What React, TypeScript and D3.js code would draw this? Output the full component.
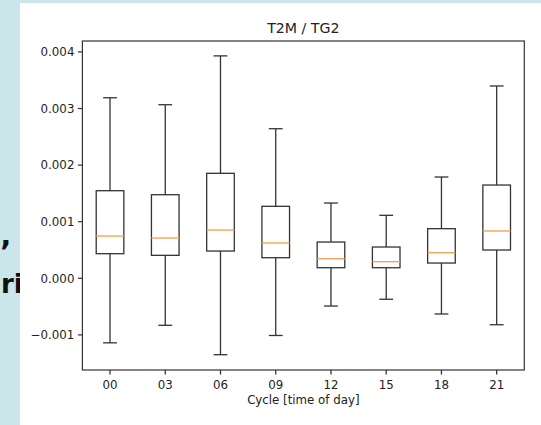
import React from "react";
import * as d3 from "d3";

const categories = ["00", "03", "06", "09", "12", "15", "18", "21"];
const whiskerLow = [-1.14e-3, -0.83e-3, -1.35e-3, -1.01e-3, -0.49e-3, -0.37e-3, -0.63e-3, -0.82e-3];
const q1 = [0.435e-3, 0.406e-3, 0.482e-3, 0.364e-3, 0.187e-3, 0.187e-3, 0.27e-3, 0.5e-3];
const median = [0.747e-3, 0.712e-3, 0.853e-3, 0.624e-3, 0.346e-3, 0.294e-3, 0.453e-3, 0.836e-3];
const q3 = [1.548e-3, 1.477e-3, 1.855e-3, 1.272e-3, 0.641e-3, 0.553e-3, 0.877e-3, 1.648e-3];
const whiskerHigh = [3.19e-3, 3.067e-3, 3.93e-3, 2.643e-3, 1.33e-3, 1.113e-3, 1.79e-3, 3.398e-3];
const yTicks = [-0.001, 0, 0.001, 0.002, 0.003, 0.004];
const title = "T2M / TG2";
const xLabel = "Cycle [time of day]";

const W = 541;
const H = 425;
const left = 82.4;
const right = 524.3;
const top = 41;
const bottom = 370;

export default function App() {
  const x = d3.scaleLinear().domain([0.5, categories.length + 0.5]).range([left, right]);
  const y = d3.scaleLinear().domain([-0.00162, 0.004193]).range([bottom, top]);
  const step = x(2) - x(1);
  const boxW = step * 0.5;
  const capW = boxW * 0.5;
  const fmt = (v: number) => {
    const s = d3.format(".3f")(Math.abs(v));
    return v < 0 ? "\u2212" + s : s;
  };
  const font = "DejaVu Sans, sans-serif";
  const ink = "#333";
  return (
    <div style={{ position: "fixed", left: 0, top: 0 }}>
      <svg width={W} height={H} style={{ display: "block" }}>
        <rect x={0} y={0} width={W} height={H} fill="#cbe6ea" />
        <text x={0} y={262} fontFamily={font} fontWeight="bold" fontSize={30} fill="#111">{"\u2019"}</text>
        <text x={1} y={293} fontFamily={font} fontWeight="bold" fontSize={26} fill="#111">ri</text>
        <rect x={20} y={3} width={W - 20} height={H - 3} fill="#ffffff" />
        <rect x={left} y={top} width={right - left} height={bottom - top} fill="none" stroke={ink} strokeWidth={1.2} />
        {categories.map((c, i) => {
          const cx = x(i + 1);
          return (
            <g key={c} stroke={ink} strokeWidth={1.3} fill="none">
              <line x1={cx} x2={cx} y1={y(q3[i])} y2={y(whiskerHigh[i])} />
              <line x1={cx} x2={cx} y1={y(q1[i])} y2={y(whiskerLow[i])} />
              <line x1={cx - capW / 2} x2={cx + capW / 2} y1={y(whiskerHigh[i])} y2={y(whiskerHigh[i])} />
              <line x1={cx - capW / 2} x2={cx + capW / 2} y1={y(whiskerLow[i])} y2={y(whiskerLow[i])} />
              <rect x={cx - boxW / 2} y={y(q3[i])} width={boxW} height={y(q1[i]) - y(q3[i])} />
              <line x1={cx - boxW / 2} x2={cx + boxW / 2} y1={y(median[i])} y2={y(median[i])} stroke="#f7a355" strokeWidth={1.4} />
              <line x1={cx} x2={cx} y1={bottom} y2={bottom + 4.5} />
              <text x={cx} y={389} textAnchor="middle" fontFamily={font} fontSize={11.8} fill="#222" stroke="none">{c}</text>
            </g>
          );
        })}
        {yTicks.map((t) => (
          <g key={t}>
            <line x1={left - 4.5} x2={left} y1={y(t)} y2={y(t)} stroke={ink} strokeWidth={1.2} />
            <text x={left - 8} y={y(t)} dy="0.36em" textAnchor="end" fontFamily={font} fontSize={11.8} fill="#222">{fmt(t)}</text>
          </g>
        ))}
        <text x={(left + right) / 2} y={404} textAnchor="middle" fontFamily={font} fontSize={11.8} fill="#222">{xLabel}</text>
        <text x={(left + right) / 2} y={33} textAnchor="middle" fontFamily={font} fontSize={14.2} fill="#222">{title}</text>
      </svg>
    </div>
  );
}
